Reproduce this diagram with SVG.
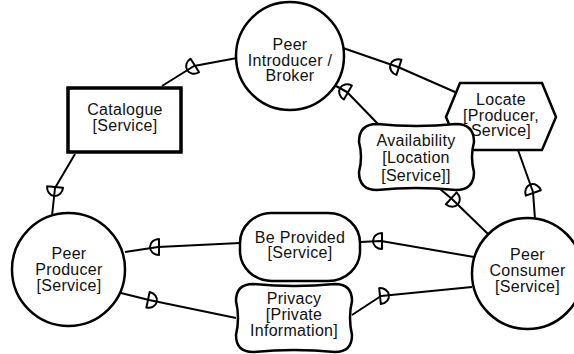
<svg xmlns="http://www.w3.org/2000/svg" width="574" height="354" viewBox="0 0 574 354">
  <defs>
    <style>
      .node { fill: #fff; stroke: #000; stroke-width: 2.5; }
      .thick { stroke-width: 3.5; }
      .link { fill: none; stroke: #000; stroke-width: 2; stroke-linejoin: round; }
      .dmark { fill: none; stroke: #000; stroke-width: 2; stroke-linejoin: round; }
      text { font-family: "Liberation Sans", Arial, sans-serif; font-size: 16px; letter-spacing: 0.3px; fill: #111; text-anchor: middle; }
    </style>
    <!-- dependency "D" marker: flat side across the link, bulge toward +x -->
    <path id="dep" d="M-1,-8 V8 A9,8 0 0 0 -1,-8 Z"/>
  </defs>

  <!-- connectors -->
  <g id="links">
    <polyline class="link" points="237,58 194,66 162,86"/>
    <polyline class="link" points="75,154 55,188 52,216"/>
    <polyline class="link" points="343,48 398,67 455,92"/>
    <polyline class="link" points="518,150 533,192 535,219"/>
    <polyline class="link" points="336,86 347,92 378,124"/>
    <polyline class="link" points="440,189 452,199 488,234"/>
    <polyline class="link" points="125,252 158,247 240,243"/>
    <polyline class="link" points="360,242 381,241 474,257"/>
    <polyline class="link" points="121,293 149,300 236,318"/>
    <polyline class="link" points="352,315 381,296 472,287"/>

    <use href="#dep" class="dmark" transform="translate(194,66) rotate(148)"/>
    <use href="#dep" class="dmark" transform="translate(55,188) rotate(95)"/>
    <use href="#dep" class="dmark" transform="translate(398,67) rotate(198)"/>
    <use href="#dep" class="dmark" transform="translate(533,192) rotate(-110)"/>
    <use href="#dep" class="dmark" transform="translate(347,92) rotate(210)"/>
    <use href="#dep" class="dmark" transform="translate(452,199) rotate(42)"/>
    <use href="#dep" class="dmark" transform="translate(158,247) rotate(180)"/>
    <use href="#dep" class="dmark" transform="translate(381,241) rotate(180)"/>
    <use href="#dep" class="dmark" transform="translate(149,300) rotate(12)"/>
    <use href="#dep" class="dmark" transform="translate(381,296) rotate(-6)"/>
  </g>

  <g id="peer-introducer">
    <circle class="node" cx="290" cy="56" r="54"/>
    <text x="290" y="50">Peer</text>
    <text x="290" y="65.5">Introducer /</text>
    <text x="290" y="81">Broker</text>
  </g>

  <g id="catalogue">
    <rect class="node thick" x="68" y="88" width="113" height="64"/>
    <text x="125" y="115">Catalogue</text>
    <text x="125" y="131">[Service]</text>
  </g>

  <g id="locate">
    <polygon class="node" points="446,117 460,83 542,83 556,117 542,150 460,150"/>
    <text x="501" y="105">Locate</text>
    <text x="501" y="120.5">[Producer,</text>
    <text x="501" y="136">Service]</text>
  </g>

  <g id="availability">
    <path class="node" d="M377,124 Q416,128 456,124 Q474,124 474,142 Q470,157 474,172 Q474,190 456,190 Q416,186 377,190 Q359,190 359,172 Q363,157 359,142 Q359,124 377,124 Z"/>
    <text x="416" y="145.5">Availability</text>
    <text x="416" y="163">[Location</text>
    <text x="416" y="180.5">[Service]]</text>
  </g>

  <g id="be-provided">
    <rect class="node" x="240" y="213" width="120" height="68" rx="32" ry="30"/>
    <text x="300" y="242.5">Be Provided</text>
    <text x="300" y="258">[Service]</text>
  </g>

  <g id="privacy">
    <path class="node" d="M253,284 Q294,288 335,284 Q352,284 352,301 Q348,318 352,335 Q352,352 335,352 Q294,348 253,352 Q236,352 236,335 Q240,318 236,301 Q236,284 253,284 Z"/>
    <text x="294" y="303.5">Privacy</text>
    <text x="294" y="319.5">[Private</text>
    <text x="294" y="335.5">Information]</text>
  </g>

  <g id="peer-producer">
    <circle class="node" cx="68.5" cy="269.5" r="56.5"/>
    <text x="69" y="258.5">Peer</text>
    <text x="69" y="274.5">Producer</text>
    <text x="69" y="290.5">[Service]</text>
  </g>

  <g id="peer-consumer">
    <circle class="node" cx="527.5" cy="273.5" r="55.5"/>
    <text x="527.5" y="260">Peer</text>
    <text x="527.5" y="276">Consumer</text>
    <text x="527.5" y="292">[Service]</text>
  </g>
</svg>
